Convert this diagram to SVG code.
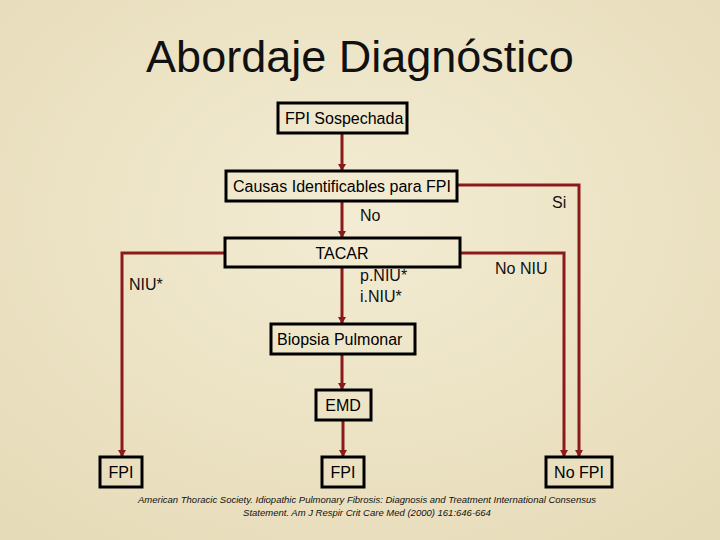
<svg xmlns="http://www.w3.org/2000/svg" width="720" height="540" viewBox="0 0 720 540">
<defs>
<radialGradient id="bg" cx="50%" cy="40%" r="75%"><stop offset="0" stop-color="#f3ecd3"/><stop offset="1" stop-color="#e6dbb8"/></radialGradient>
<marker id="ah" markerWidth="8" markerHeight="8" refX="6" refY="4" orient="auto" markerUnits="userSpaceOnUse"><path d="M0,0 L7,4 L0,8 Z" fill="#8b1a1a"/></marker>
</defs>
<style>
.b{fill:none;stroke:#000;stroke-width:3}
.t{font-family:"Liberation Sans",Arial,sans-serif;font-size:16px;fill:#000}
.c{fill:none;stroke:#8b1a1a;stroke-width:3;marker-end:url(#ah)}
.l{font-family:"Liberation Sans",Arial,sans-serif;font-size:16px;fill:#111}
</style>
<rect width="720" height="540" fill="url(#bg)"/>
<text x="360" y="72" text-anchor="middle" font-family="Liberation Sans,Arial,sans-serif" font-size="45" fill="#111">Abordaje Diagnóstico</text>
<g id="connectors">
<path class="c" d="M342,133 V170"/>
<path class="c" d="M342,201 V237"/>
<path class="c" d="M342,267 V323"/>
<path class="c" d="M342,354 V389"/>
<path class="c" d="M343,420 V456"/>
<path class="c" d="M225,253 H122 V456"/>
<path class="c" d="M460,253 H564 V456"/>
<path class="c" d="M457,185 H579 V456"/>
</g>
<g class="l">
<text x="360" y="221">No</text>
<text x="552" y="208">Si</text>
<text x="129" y="290">NIU*</text>
<text x="360" y="281">p.NIU*</text>
<text x="360" y="302">i.NIU*</text>
<text x="495" y="274">No NIU</text>
</g>
<g id="n1"><rect class="b" x="278" y="103" width="129" height="30"/><text class="t" x="285" y="124">FPI Sospechada</text></g>
<g id="n2"><rect class="b" x="226" y="171" width="231" height="30"/><text class="t" x="233" y="192">Causas Identificables para FPI</text></g>
<g id="n3"><rect class="b" x="225" y="238" width="235" height="29"/><text class="t" x="342" y="259" text-anchor="middle">TACAR</text></g>
<g id="n4"><rect class="b" x="271" y="324" width="144" height="30"/><text class="t" x="277" y="345">Biopsia Pulmonar</text></g>
<g id="n5"><rect class="b" x="316" y="390" width="55" height="30"/><text class="t" x="343" y="411" text-anchor="middle">EMD</text></g>
<g id="n6"><rect class="b" x="100" y="457" width="42" height="30"/><text class="t" x="121" y="478" text-anchor="middle">FPI</text></g>
<g id="n7"><rect class="b" x="322" y="457" width="42" height="30"/><text class="t" x="343" y="478" text-anchor="middle">FPI</text></g>
<g id="n8"><rect class="b" x="546" y="457" width="66" height="30"/><text class="t" x="579" y="478" text-anchor="middle">No FPI</text></g>
<g font-family="Liberation Sans,Arial,sans-serif" font-size="9.5" font-style="italic" fill="#111" text-anchor="middle">
<text x="367" y="503">American Thoracic Society. Idiopathic Pulmonary Fibrosis: Diagnosis and Treatment International Consensus</text>
<text x="367" y="516">Statement. Am J Respir Crit Care Med (2000) 161:646-664</text>
</g>
</svg>
